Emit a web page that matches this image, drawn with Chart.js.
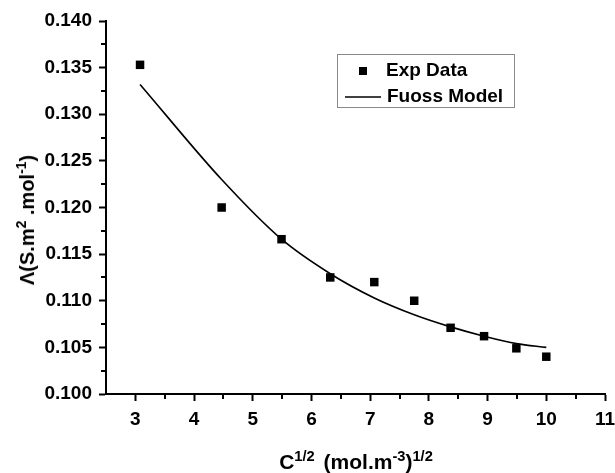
<!DOCTYPE html>
<html>
<head>
<meta charset="utf-8">
<script src="https://cdn.jsdelivr.net/npm/chart.js@4.4.1/dist/chart.umd.min.js"></script>
<style>
  html, body { margin: 0; padding: 0; background: #fff; }
  #wrap { position: relative; width: 615px; height: 473px; }
  #chart { position: absolute; left: 0; top: 0; }
  .axis-title {
    position: absolute;
    font-family: Arial, "Liberation Sans", sans-serif;
    font-weight: bold;
    color: #000;
    white-space: nowrap;
    line-height: 24px;
  }
  .axis-title sup {
    font-size: 0.7em;
    position: relative;
    top: -0.55em;
    vertical-align: baseline;
  }
  #ytitle {
    font-size: 20px;
    left: 28px; top: 220px;
    transform: translate(-50%, -50%) rotate(-90deg);
  }
  #xtitle {
    font-size: 21px;
    left: 356px; top: 450px;
    transform: translateX(-50%);
    word-spacing: 3px;
  }
</style>
</head>
<body>
<div id="wrap">
  <canvas id="chart" width="615" height="473"></canvas>
  <div class="axis-title" id="ytitle">Λ(S.m<sup>2</sup> .mol<sup>-1</sup>)</div>
  <div class="axis-title" id="xtitle">C<sup>1/2</sup> (mol.m<sup>-3</sup>)<sup>1/2</sup></div>
</div>
<script>
// C^1/2 값 (x축)
const sqrtC = [3.08, 4.47, 5.49, 6.32, 7.07, 7.75, 8.37, 8.94, 9.49, 10.0];
// 실험값 (Exp Data)
const lambdaExp = [0.1353, 0.1200, 0.1166, 0.1125, 0.1120, 0.1100, 0.1071, 0.1062, 0.1049, 0.1040];
// Fuoss 모델 곡선
const lambdaFit = [0.1332, 0.1230, 0.1166, 0.1129, 0.1103, 0.1085, 0.1072, 0.1062, 0.1054, 0.1050];

// 눈금 라벨
const xTicks = [3, 4, 5, 6, 7, 8, 9, 10, 11];
const yTicks = [0.100, 0.105, 0.110, 0.115, 0.120, 0.125, 0.130, 0.135, 0.140];

const xRange = [2.5, 11];
const yRange = [0.100, 0.140];

const FONT = 'Arial, "Liberation Sans", sans-serif';

// 보조 눈금 (major 사이 중간값) 그리기
const minorTickPlugin = {
  id: 'minorTicks',
  afterDraw(chart) {
    const ctx = chart.ctx;
    const xs = chart.scales.x;
    const ys = chart.scales.y;
    ctx.save();
    ctx.strokeStyle = '#000';
    ctx.lineWidth = 2;
    ctx.beginPath();
    for (let i = 0; i < xTicks.length - 1; i++) {
      const px = Math.round(xs.getPixelForValue((xTicks[i] + xTicks[i + 1]) / 2));
      ctx.moveTo(px, ys.bottom);
      ctx.lineTo(px, ys.bottom + 5);
    }
    for (let i = 0; i < yTicks.length - 1; i++) {
      const py = Math.round(ys.getPixelForValue((yTicks[i] + yTicks[i + 1]) / 2));
      ctx.moveTo(xs.left, py);
      ctx.lineTo(xs.left - 5, py);
    }
    ctx.stroke();
    ctx.restore();
  }
};

// 플롯 안쪽 범례 박스
const legendBoxPlugin = {
  id: 'legendBox',
  afterDraw(chart) {
    const ctx = chart.ctx;
    const ds = chart.data.datasets;
    ctx.save();
    ctx.strokeStyle = '#8a8a8a';
    ctx.lineWidth = 1;
    ctx.strokeRect(337.5, 54.5, 177, 53);

    ctx.fillStyle = '#000';
    ctx.fillRect(359, 67, 8, 8);

    ctx.strokeStyle = '#000';
    ctx.lineWidth = 1.6;
    ctx.beginPath();
    ctx.moveTo(345, 97);
    ctx.lineTo(381, 97);
    ctx.stroke();

    ctx.font = 'bold 19px ' + FONT;
    ctx.textBaseline = 'middle';
    ctx.textAlign = 'left';
    ctx.fillText(ds[0].label, 386, 71);
    ctx.fillText(ds[1].label, 387, 97);
    ctx.restore();
  }
};

const expPoints = sqrtC.map((x, i) => ({ x, y: lambdaExp[i] }));
const fitPoints = sqrtC.map((x, i) => ({ x, y: lambdaFit[i] }));

new Chart(document.getElementById('chart'), {
  type: 'scatter',
  data: {
    datasets: [
      {
        label: 'Exp Data',
        data: expPoints,
        pointStyle: 'rect',
        pointRadius: 6,
        pointBackgroundColor: '#000',
        pointBorderColor: '#000',
        pointBorderWidth: 0,
        showLine: false
      },
      {
        label: 'Fuoss Model',
        data: fitPoints,
        showLine: true,
        borderColor: '#000',
        borderWidth: 1.6,
        pointRadius: 0,
        cubicInterpolationMode: 'monotone',
        fill: false
      }
    ]
  },
  plugins: [minorTickPlugin, legendBoxPlugin],
  options: {
    responsive: false,
    animation: false,
    events: [],
    layout: { padding: { top: 21, right: 0, left: 0, bottom: 0 } },
    plugins: {
      legend: { display: false },
      tooltip: { enabled: false }
    },
    scales: {
      x: {
        type: 'linear',
        min: xRange[0],
        max: xRange[1],
        afterBuildTicks(scale) { scale.ticks = xTicks.map(v => ({ value: v })); },
        afterFit(scale) { scale.height = 79; scale.paddingRight = 10; },
        border: { display: true, color: '#000', width: 2 },
        grid: {
          drawOnChartArea: false,
          drawTicks: true,
          tickLength: 7,
          tickWidth: 2,
          tickColor: '#000'
        },
        ticks: {
          autoSkip: false,
          maxRotation: 0,
          padding: 7,
          color: '#000',
          font: { family: FONT, size: 19, weight: 'bold' },
          callback: (v) => String(v)
        }
      },
      y: {
        type: 'linear',
        min: yRange[0],
        max: yRange[1],
        afterBuildTicks(scale) { scale.ticks = yTicks.map(v => ({ value: v })); },
        afterFit(scale) { scale.width = 106; },
        border: { display: true, color: '#000', width: 2 },
        grid: {
          drawOnChartArea: false,
          drawTicks: true,
          tickLength: 7,
          tickWidth: 2,
          tickColor: '#000'
        },
        ticks: {
          autoSkip: false,
          padding: 7,
          color: '#000',
          font: { family: FONT, size: 19, weight: 'bold' },
          callback: (v) => Number(v).toFixed(3)
        }
      }
    }
  }
});
</script>
</body>
</html>
